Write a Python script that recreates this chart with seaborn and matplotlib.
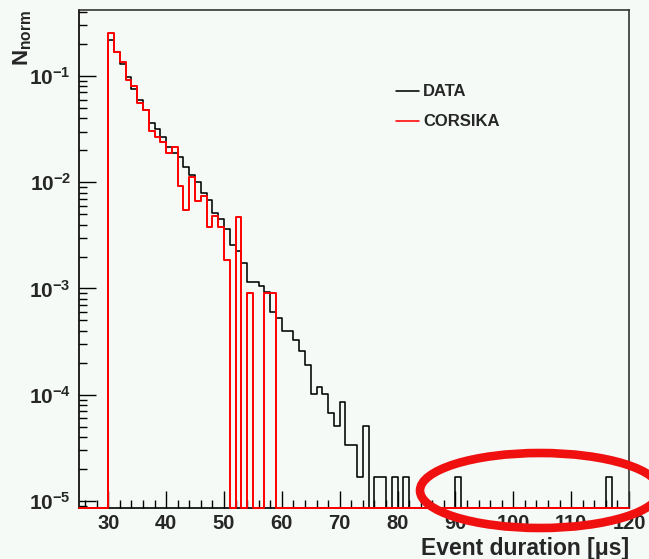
import matplotlib
matplotlib.use("Agg")
import matplotlib.pyplot as plt
import seaborn as sns
import pandas as pd
from matplotlib.patches import Ellipse
from matplotlib.lines import Line2D

# ---------------- data (bins of 1 us, lower edges 25 ... 119) ----------------
bin_lo = list(range(25, 120))
bin_width = 1

data_vals = [
    0, 0, 0, 0, 0,
    0.218, 0.167, 0.131, 0.097, 0.076, 0.060, 0.0476, 0.0359, 0.0317, 0.0268,
    0.0216, 0.0190, 0.0174, 0.0138, 0.0117, 0.0100, 0.0080, 0.0068, 0.0051, 0.0045,
    0.00365, 0.00257, 0.00225, 0.00175, 0.00114, 0.00114, 0.00106, 0.00092, 0.00060, 0.00053,
    0.000398, 0.000398, 0.000327, 0.000260, 0.000189, 0.000101, 0.000118, 0.000101, 6.8e-5, 5.1e-5,
    8.5e-5, 3.4e-5, 3.4e-5, 1.7e-5, 5.1e-5, 0, 1.7e-5, 1.7e-5, 0, 1.7e-5,
    0, 1.7e-5, 0, 0, 0, 0, 0, 0, 0, 0,
    1.7e-5, 0, 0, 0, 0, 0, 0, 0, 0, 0,
    0, 0, 0, 0, 0, 0, 0, 0, 0, 0,
    0, 0, 0, 0, 0, 0, 1.7e-5, 0, 0, 0,
]

corsika_vals = [
    0, 0, 0, 0, 0,
    0.255, 0.167, 0.1346, 0.091, 0.0805, 0.0553, 0.0476, 0.0305, 0.0268, 0.0238,
    0.0190, 0.0216, 0.0093, 0.00548, 0.0113, 0.0066, 0.0075, 0.00377, 0.0048, 0.00377,
    0.00185, 0, 0.00474, 0, 0.00091, 0, 0, 0.00091, 0.00091, 0,
    0, 0, 0, 0, 0, 0, 0, 0, 0, 0,
    0, 0, 0, 0, 0, 0, 0, 0, 0, 0,
    0, 0, 0, 0, 0, 0, 0, 0, 0, 0,
    0, 0, 0, 0, 0, 0, 0, 0, 0, 0,
    0, 0, 0, 0, 0, 0, 0, 0, 0, 0,
    0, 0, 0, 0, 0, 0, 0, 0, 0, 0,
]

series_names = ["DATA", "CORSIKA"]
series_colors = ["#000000", "#ff0000"]
series_lw = [1.15, 1.4]
x_ticks = [30, 40, 50, 60, 70, 80, 90, 100, 110, 120]
y_ticks = [1e-5, 1e-4, 1e-3, 1e-2, 1e-1]
y_ticklabels = [r"$\mathdefault{10^{-5}}$", r"$\mathdefault{10^{-4}}$", r"$\mathdefault{10^{-3}}$",
                r"$\mathdefault{10^{-2}}$", r"$\mathdefault{10^{-1}}$"]
x_label = "Event duration [\u03bcs]"
y_label = r"$\mathbf{N}_{\mathbf{norm}}$"

# ---------------- style ----------------
sns.set_theme(style="white")
bg = "#f6faf7"
plt.rcParams["font.family"] = ["Liberation Sans", "DejaVu Sans"]
plt.rcParams["font.weight"] = "bold"
plt.rcParams["mathtext.fontset"] = "custom"
plt.rcParams["mathtext.rm"] = "Liberation Sans:bold"
plt.rcParams["mathtext.bf"] = "Liberation Sans:bold"
plt.rcParams["mathtext.it"] = "Liberation Sans:bold:italic"

YMIN, YMAX = 8.65e-6, 0.415

fig = plt.figure(figsize=(6.49, 5.59), dpi=100, facecolor=bg)
ax = fig.add_axes([79.3 / 649, 1 - 507.7 / 559, (629 - 79.3) / 649, (507.7 - 10.3) / 559])
ax.set_facecolor(bg)
ax.set_yscale("log")

def step_frame(vals, name):
    edges = bin_lo + [bin_lo[-1] + bin_width]
    y = [v if v > 0 else YMIN for v in vals]
    y = y + [y[-1]]
    return pd.DataFrame({"x": edges, "y": y, "series": name})

for vals, name, col, lw, z in [(data_vals, series_names[0], series_colors[0], series_lw[0], 3),
                               (corsika_vals, series_names[1], series_colors[1], series_lw[1], 4)]:
    df = step_frame(vals, name)
    sns.lineplot(data=df, x="x", y="y", drawstyle="steps-post", estimator=None,
                 color=col, lw=lw, ax=ax, legend=False, zorder=z, clip_on=False)

ax.set_xlim(25, 120)
ax.set_ylim(YMIN, YMAX)

# ticks (ROOT style: inside, bottom/left only)
ax.set_xticks(x_ticks)
ax.set_xticklabels([str(t) for t in x_ticks], fontsize=14.5, fontweight="bold")
ax.xaxis.set_minor_locator(matplotlib.ticker.MultipleLocator(2))
ax.set_yticks(y_ticks)
ax.set_yticklabels(y_ticklabels, fontsize=15, fontweight="bold")
ax.yaxis.set_minor_locator(matplotlib.ticker.LogLocator(base=10, subs=range(2, 10)))
ax.yaxis.set_minor_formatter(matplotlib.ticker.NullFormatter())
ax.tick_params(axis="both", which="major", direction="in", length=12, width=1.0,
               color="black", pad=6, bottom=True, left=True, top=False, right=False)
ax.tick_params(axis="x", which="major", pad=4.5)
ax.tick_params(axis="both", which="minor", direction="in", length=5.8, width=1.0,
               color="black", bottom=True, left=True, top=False, right=False)

for side, sp in ax.spines.items():
    sp.set_color("black" if side in ("left", "bottom") else "#333333")
    sp.set_linewidth(1.2)

# axis titles
ax.set_xlabel(x_label, fontsize=16.5, fontweight="bold", loc="right")
ax.xaxis.set_label_coords(1.0, -0.059)
ax.set_ylabel(y_label, fontsize=16, loc="top")
ax.yaxis.set_label_coords(-0.083, 1.0)

# legend
handles = [Line2D([], [], color=c, lw=1.15) for c in series_colors]
ax.legend(handles, series_names, loc="upper left", bbox_to_anchor=(0.577, 0.851),
          frameon=False, prop={"size": 12, "weight": "bold"}, borderpad=0,
          borderaxespad=0, handlelength=1.36, handletextpad=0.25, labelspacing=0.9)

# red highlight ellipse (annotation overlay)
ell = Ellipse((540 / 649, 1 - 490.5 / 559), 240 / 649, 75 / 559, transform=fig.transFigure,
              fill=False, edgecolor="#f01010", lw=6.2, zorder=10, clip_on=False)
fig.add_artist(ell)

fig.savefig("out.png", dpi=100, facecolor=bg)
